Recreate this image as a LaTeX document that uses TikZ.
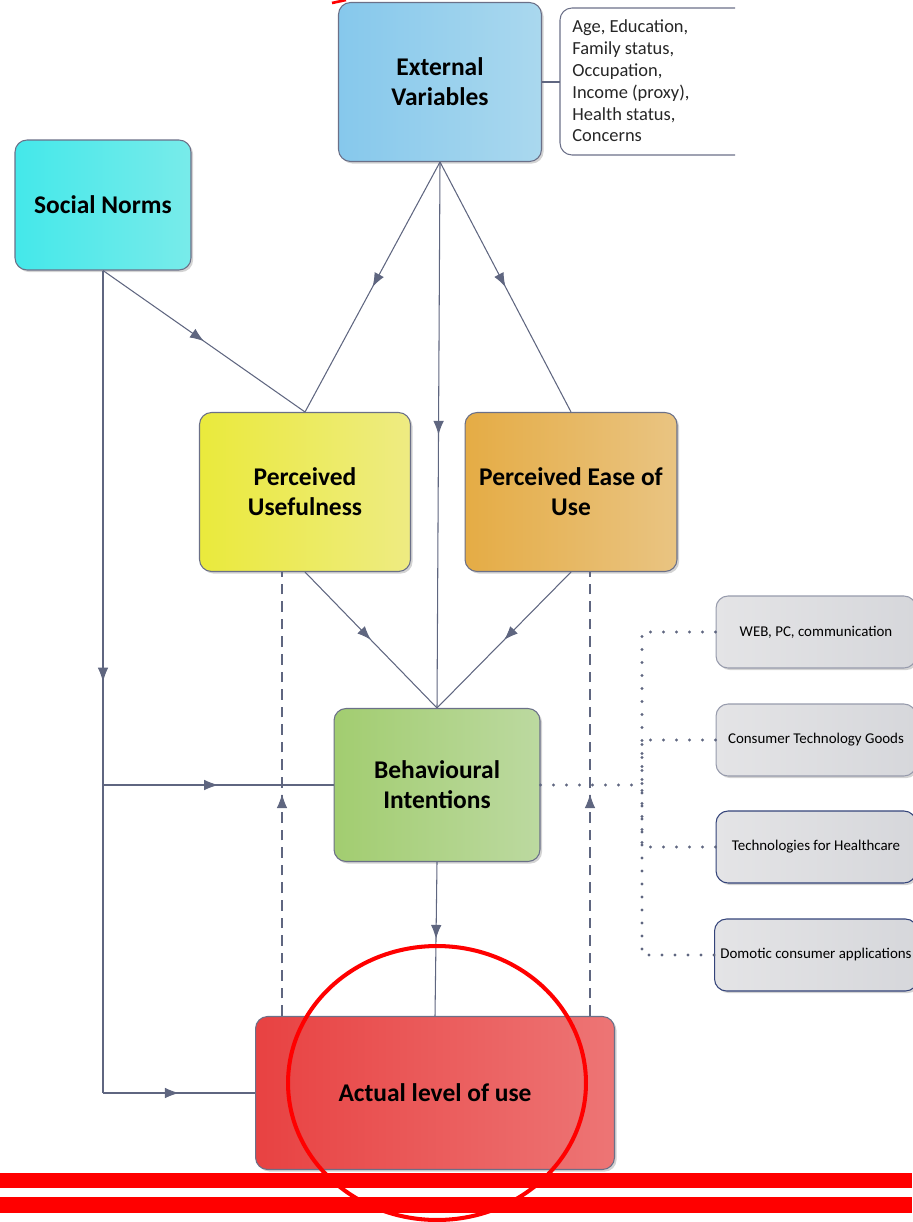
\documentclass[tikz,border=0pt]{standalone}
\usepackage{fontspec}
\setmainfont{Carlito}
\usetikzlibrary{arrows.meta,decorations.markings,shadows}

\definecolor{linecol}{HTML}{5F6680}
\definecolor{edgecol}{HTML}{6B7088}
\definecolor{navyedge}{HTML}{34447A}
\definecolor{extA}{HTML}{86C8EC}
\definecolor{extB}{HTML}{AAD8EE}
\definecolor{snA}{HTML}{44E8EA}
\definecolor{snB}{HTML}{78EBEA}
\definecolor{puA}{HTML}{EAEA3C}
\definecolor{puB}{HTML}{EEEB82}
\definecolor{peA}{HTML}{E5AC45}
\definecolor{peB}{HTML}{E9C482}
\definecolor{biA}{HTML}{A2CD70}
\definecolor{biB}{HTML}{BCD9A0}
\definecolor{acA}{HTML}{E84242}
\definecolor{acB}{HTML}{ED7575}
\definecolor{itemA}{HTML}{E4E4E6}
\definecolor{itemB}{HTML}{D6D7DB}

\begin{document}
\begin{tikzpicture}[x=0.02cm, y=-0.02cm,
    box/.style={draw=edgecol, line width=0.6pt, rounded corners=0.24cm, align=center,
        font=\fontsize{14.5}{17}\selectfont\bfseries,
        drop shadow={shadow xshift=1.2pt, shadow yshift=-1.2pt, opacity=0.35}},
    item/.style={box, font=\fontsize{8.5}{10}\selectfont, minimum width=4cm,
        minimum height=1.44cm, left color=itemA, right color=itemB},
    link/.style={draw=linecol, color=linecol, line width=0.6pt},
    dashline/.style={link, dash pattern=on 6pt off 4pt},
    dotline/.style={draw=linecol, line width=1.8pt, line cap=round, dash pattern=on 0pt off 7.4pt},
    midarrow/.style={postaction={decorate}, decoration={markings,
        mark=at position 0.5 with {\arrow{Latex[length=8pt,width=6pt]}}}}]
    \useasboundingbox (0,0) rectangle (912,1222);

    \node[box, minimum width=4.06cm, minimum height=3.18cm, left color=extA, right color=extB]
        (ext) at (440,82) {External\\Variables};
    \node[box, minimum width=3.52cm, minimum height=2.6cm, left color=snA, right color=snB]
        (sn) at (103,205) {Social Norms};
    \node[box, minimum width=4.22cm, minimum height=3.18cm, left color=puA, right color=puB]
        (pu) at (305,492) {Perceived\\Usefulness};
    \node[box, minimum width=4.24cm, minimum height=3.18cm, left color=peA, right color=peB]
        (peou) at (571,492) {Perceived Ease of\\Use};
    \node[box, minimum width=4.12cm, minimum height=3.06cm, left color=biA, right color=biB]
        (bi) at (437,785) {Behavioural\\Intentions};
    \node[box, minimum width=7.18cm, minimum height=3.06cm, left color=acA, right color=acB]
        (act) at (435,1093) {Actual level of use};

    \node[anchor=north west, align=left, inner xsep=0.24cm, inner ysep=0.1cm, text=black!85,
        font=\fontsize{10.5}{12.5}\selectfont] (note) at (560,14)
        {Age, Education,\\Family status,\\Occupation,\\Income (proxy),\\Health status,\\Concerns};
    \draw[draw=edgecol, line width=0.6pt, rounded corners=0.24cm] (735,8) -- (560,8) -- (560,155) -- (735,155);
    \draw[link] (ext.east) -- (ext.east -| note.west);

    \node[item, draw=edgecol!70] (web) at (816,632) {WEB, PC, communication};
    \node[item, draw=edgecol!70] (goods) at (816,740) {Consumer Technology Goods};
    \node[item, draw=navyedge] (health) at (816,847) {Technologies for Healthcare};
    \node[item, draw=navyedge] (domo) at (816,955) {Domotic consumer applications};

    \coordinate (hub) at (642,785);
    \coordinate (corner) at (103,1093);
    \coordinate (branch) at (103,785);
    \coordinate (dashL) at (282,0);
    \coordinate (dashR) at (590,0);

    \draw[link, midarrow] (ext.south) -- (pu.north);
    \draw[link, midarrow] (ext.south) -- (peou.north);
    \draw[link, midarrow] (ext.south) -- (bi.north);
    \draw[link, midarrow] (sn.south) -- (pu.north);
    \draw[link, midarrow] (sn.south) -- (corner);
    \draw[link, midarrow] (corner) -- (act.west);
    \draw[link, midarrow] (branch) -- (bi.west);
    \draw[link, midarrow] (pu.south) -- (bi.north);
    \draw[link, midarrow] (peou.south) -- (bi.north);
    \draw[link, midarrow] (bi.south) -- (act.north);
    \draw[dashline, midarrow] (act.north -| dashL) -- (pu.south -| dashL);
    \draw[dashline, midarrow] (act.north -| dashR) -- (peou.south -| dashR);

    \draw[dotline] (bi.east) -- (hub);
    \draw[dotline] (web.west) -| (hub);
    \draw[dotline] (goods.west) -| (hub);
    \draw[dotline] (health.west) -| (hub);
    \draw[dotline] (domo.west) -| (hub);

    \draw[red, line width=2.3pt] (437,1083) ellipse [x radius=2.98cm, y radius=2.74cm];
    \fill[red] (0,1173) rectangle (912,1188);
    \fill[red] (0,1197) rectangle (912,1213);
    \draw[red, line width=1.5pt] (332,3) -- (346,0);
\end{tikzpicture}
\end{document}
